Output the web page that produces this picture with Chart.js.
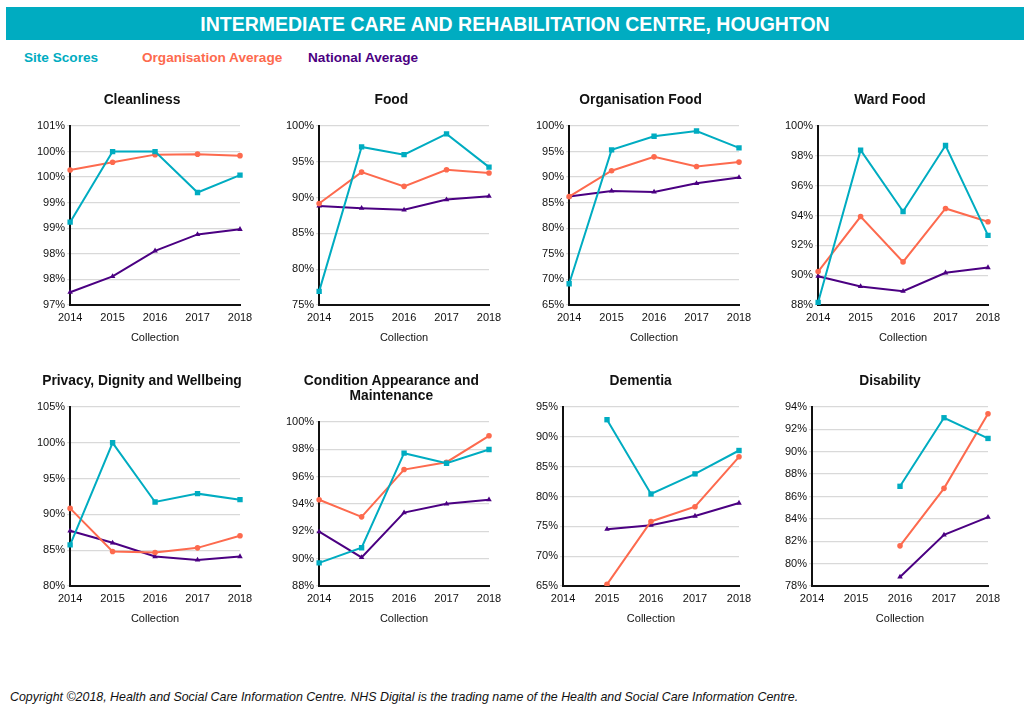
<!DOCTYPE html>
<html>
<head>
<meta charset="utf-8">
<script src="https://cdn.jsdelivr.net/npm/chart.js@4/dist/chart.umd.min.js"></script>
<style>
  body    { margin: 0; background: #fff; font-family: "Liberation Sans", Arial, sans-serif; }
  #page   { position: relative; width: 1025px; height: 712px; overflow: hidden; }
  #banner { position: absolute; left: 6px; top: 7px; width: 1018px; height: 33px; background: #00acc1;
            color: #fff; font-weight: bold; font-size: 19.5px; line-height: 34px; text-align: center; }
  .legend { position: absolute; top: 50px; font-weight: bold; font-size: 13.6px; line-height: 16px; white-space: nowrap; }
  .box    { position: absolute; width: 250px; height: 262px; }
  .title  { position: absolute; left: 0; top: 3.5px; width: 250px; text-align: center; color: #111;
            font-weight: bold; font-size: 13.8px; line-height: 15px; }
  #footer { position: absolute; left: 10px; top: 689px; font-size: 12.4px; line-height: 16px; font-style: italic; color: #111; white-space: nowrap; }
</style>
</head>
<body>
<div id="page">
  <div id="banner">INTERMEDIATE CARE AND REHABILITATION CENTRE, HOUGHTON</div>
  <div class="legend" style="left:24px;  color:#00acc1">Site Scores</div>
  <div class="legend" style="left:142px; color:#fd6a4e">Organisation Average</div>
  <div class="legend" style="left:308px; color:#4b0082">National Average</div>
  <div id="charts"></div>
  <div id="footer">Copyright ©2018, Health and Social Care Information Centre. NHS Digital is the trading name of the Health and Social Care Information Centre.</div>
</div>

<script>
// Site / organisation / national scores per PLACE domain, 2014-2018

const years = ['2014', '2015', '2016', '2017', '2018']

const chartTitles = ['Cleanliness', 'Food', 'Organisation Food', 'Ward Food',
                     'Privacy, Dignity and Wellbeing', ['Condition Appearance and', 'Maintenance'], 'Dementia', 'Disability']

const axisMin  = [97,    75,  65,  88,  80,  88,  65, 78]
const axisMax  = [100.5, 100, 100, 100, 105, 100, 95, 94]
const axisStep = [0.5,   5,   5,   2,   5,   2,   5,  2]

const cleanlinessSite = [98.62, 100.0, 100.0, 99.2,  99.54]
const cleanlinessOrg  = [99.64, 99.79, 99.94, 99.95, 99.92]
const cleanlinessNat  = [97.25, 97.56, 98.06, 98.38, 98.48]

const foodSite = [76.9,  97.08, 96.0,  98.9,  94.26]
const foodOrg  = [89.17, 93.56, 91.57, 93.89, 93.43]
const foodNat  = [88.84, 88.52, 88.29, 89.72, 90.19]

const orgFoodSite = [69.15, 95.33, 97.99, 99.03, 95.72]
const orgFoodOrg  = [86.2,  91.25, 93.97, 92.09, 92.94]
const orgFoodNat  = [86.2,  87.3,  87.1,  88.79, 89.95]

const wardFoodSite = [88.18, 98.38, 94.27, 98.69, 92.67]
const wardFoodOrg  = [90.24, 93.93, 90.89, 94.47, 93.58]
const wardFoodNat  = [89.93, 89.24, 88.93, 90.16, 90.51]

const privacySite = [85.75, 100.0, 91.73, 92.9,  92.06]
const privacyOrg  = [90.84, 84.81, 84.67, 85.33, 87.01]
const privacyNat  = [87.71, 86.03, 84.11, 83.64, 84.11]

const conditionSite = [89.69, 90.8,  97.72, 96.98, 97.99]
const conditionOrg  = [94.31, 93.06, 96.52, 97.06, 98.99]
const conditionNat  = [91.98, 90.09, 93.37, 94.01, 94.31]

const dementiaSite = [null, 92.87, 80.42, 83.79, 87.71]
const dementiaOrg  = [null, 65.28, 75.82, 78.29, 86.65]
const dementiaNat  = [null, 74.53, 75.2,  76.72, 78.9]

const disabilitySite = [null, null, 86.91, 93.04, 91.19]
const disabilityOrg  = [null, null, 81.59, 86.73, 93.4]
const disabilityNat  = [null, null, 78.81, 82.57, 84.16]

const siteSeries = [cleanlinessSite, foodSite, orgFoodSite, wardFoodSite, privacySite, conditionSite, dementiaSite, disabilitySite]
const orgSeries  = [cleanlinessOrg,  foodOrg,  orgFoodOrg,  wardFoodOrg,  privacyOrg,  conditionOrg,  dementiaOrg,  disabilityOrg]
const natSeries  = [cleanlinessNat,  foodNat,  orgFoodNat,  wardFoodNat,  privacyNat,  conditionNat,  dementiaNat,  disabilityNat]

const SITE_COLOR = '#00acc1'
const ORG_COLOR  = '#fd6a4e'
const NAT_COLOR  = '#4b0082'
const FONT       = '"Liberation Sans", Arial, sans-serif'

function series(label, data, color, style, radius)
{
  return {
    label:                label,
    data:                 data,
    borderColor:          color,
    backgroundColor:      color,
    borderWidth:          2,
    pointStyle:           style,
    pointRadius:          radius,
    pointBorderWidth:     0,
    pointBackgroundColor: color,
    tension:              0,
    spanGaps:             false
  }
}

function createChart(i)
{
  const col   = i % 4
  const row   = Math.floor(i / 4)
  const title = chartTitles[i]
  const lines = Array.isArray(title) ? title.length : 1

  const box = document.createElement('div')
  box.className  = 'box'
  box.style.left = (17 + col * 249.33) + 'px'
  box.style.top  = (88 + row * 281) + 'px'

  // title as html so it centres on the column, not on the plot
  const head = document.createElement('div')
  head.className = 'title'
  head.innerHTML = Array.isArray(title) ? title.join('<br>') : title
  box.appendChild(head)

  const canvas = document.createElement('canvas')
  box.appendChild(canvas)
  document.getElementById('charts').appendChild(box)

  new Chart(canvas, {
    type: 'line',
    data: {
      labels:   years,
      datasets: [
        series('Site Scores',          siteSeries[i], SITE_COLOR, 'rect',     3.8),
        series('Organisation Average', orgSeries[i],  ORG_COLOR,  'circle',   2.8),
        series('National Average',     natSeries[i],  NAT_COLOR,  'triangle', 3.2)
      ]
    },
    options: {
      responsive:          true,
      maintainAspectRatio: false,
      animation:           false,
      layout: { padding: { left: 18, right: 27, top: 38 + (lines - 1) * 15, bottom: 1.4 } },
      plugins: {
        legend:  { display: false },
        tooltip: { enabled: false },
        title:   { display: false }
      },
      scales: {
        x: {
          grid:   { display: false, drawTicks: false },
          border: { display: true, color: '#111', width: 2 },
          ticks:  { color: '#111', font: { family: FONT, size: 11 }, padding: 6.4, maxRotation: 0, autoSkip: false },
          title:  { display: true, text: 'Collection', color: '#111', font: { family: FONT, size: 11 }, padding: { top: 0.4, bottom: 4 } }
        },
        y: {
          min: axisMin[i],
          max: axisMax[i],
          grid:   { color: '#d9d9d9', lineWidth: 1.3, tickLength: 3 },
          border: { display: true, color: '#111', width: 2 },
          ticks:  {
            stepSize: axisStep[i],
            autoSkip: false,
            color:    '#111',
            padding:  2,
            font:     { family: FONT, size: 11 },
            callback: v => Math.round(v) + '%'
          }
        }
      }
    }
  })
}

for( let i = 0; i < chartTitles.length; i++ )
  createChart(i)
</script>
</body>
</html>
